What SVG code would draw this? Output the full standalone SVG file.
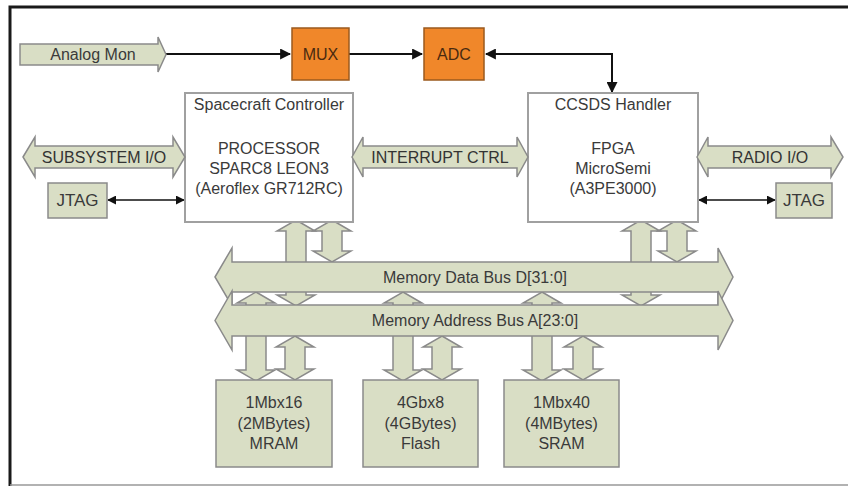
<svg xmlns="http://www.w3.org/2000/svg" width="848" height="488" viewBox="0 0 848 488">
<defs>
<marker id="ah" viewBox="0 0 10 10" refX="9" refY="5" markerWidth="11" markerHeight="11" markerUnits="userSpaceOnUse" orient="auto-start-reverse"><path d="M0,0 L10,5 L0,10 Z" fill="#111"/></marker>
<marker id="ahs" viewBox="0 0 10 10" refX="9" refY="5" markerWidth="9" markerHeight="9" markerUnits="userSpaceOnUse" orient="auto-start-reverse"><path d="M0,0 L10,5 L0,10 Z" fill="#111"/></marker>
</defs>
<style>
.t{font-family:"Liberation Sans",Arial,sans-serif;font-size:16px;fill:#3a3a3a;text-anchor:middle}
.lbl{font-family:"Liberation Sans",Arial,sans-serif;font-size:16px;fill:#333;text-anchor:middle}
.blk{fill:#d9dec5;stroke:#8a8a8a;stroke-width:1.5}
.box{fill:#fff;stroke:#a0a0a0;stroke-width:2}
.org{fill:#f0872a;stroke:#9b5a1e;stroke-width:1.5}
.ln{fill:none;stroke:#111;stroke-width:2}
.lns{fill:none;stroke:#111;stroke-width:1.5}
</style>
<rect width="848" height="488" fill="#fff"/>
<path d="M10,486 L10,7 L848,7" fill="none" stroke="#1a1a1a" stroke-width="3"/>
<line x1="10" y1="485" x2="848" y2="485" stroke="#999" stroke-width="1.5"/>

<g id="connectors">
<path class="ln" d="M166,54 L290,54" marker-end="url(#ah)"/>
<path class="ln" d="M349,54 L422,54" marker-end="url(#ah)"/>
<path class="ln" d="M486,54 L612,54 L612,92" marker-start="url(#ah)" marker-end="url(#ah)"/>
<path class="lns" d="M108,200 L184,200" marker-start="url(#ahs)" marker-end="url(#ahs)"/>
<path class="lns" d="M699,200 L775,200" marker-start="url(#ahs)" marker-end="url(#ahs)"/>
<path class="blk" d="M296,220 L315,231 L306,231 L306,295 L315,295 L296,306 L277,295 L286,295 L286,231 L277,231 Z"/>
<path class="blk" d="M332,220 L351,231 L342,231 L342,251 L351,251 L332,262 L313,251 L322,251 L322,231 L313,231 Z"/>
<path class="blk" d="M641,220 L660,231 L651,231 L651,295 L660,295 L641,306 L622,295 L631,295 L631,231 L622,231 Z"/>
<path class="blk" d="M677,220 L696,231 L687,231 L687,251 L696,251 L677,262 L658,251 L667,251 L667,231 L658,231 Z"/>
<path class="blk" d="M256,292 L275,303 L266,303 L266,370 L275,370 L256,381 L237,370 L246,370 L246,303 L237,303 Z"/>
<path class="blk" d="M295,336 L314,347 L305,347 L305,369 L314,369 L295,380 L276,369 L285,369 L285,347 L276,347 Z"/>
<path class="blk" d="M403,292 L422,303 L413,303 L413,370 L422,370 L403,381 L384,370 L393,370 L393,303 L384,303 Z"/>
<path class="blk" d="M442,336 L461,347 L452,347 L452,369 L461,369 L442,380 L423,369 L432,369 L432,347 L423,347 Z"/>
<path class="blk" d="M542,292 L561,303 L552,303 L552,370 L561,370 L542,381 L523,370 L532,370 L532,303 L523,303 Z"/>
<path class="blk" d="M583,336 L602,347 L593,347 L593,369 L602,369 L583,380 L564,369 L573,369 L573,347 L564,347 Z"/>
</g>

<g id="analog-mon">
<path class="blk" d="M20,44 L158,44 L158,37 L166,54.5 L158,72 L158,65 L20,65 Z"/>
<text class="t" x="93" y="60">Analog Mon</text>
</g>
<g id="mux">
<rect class="org" x="292" y="28" width="57" height="52"/>
<text class="t" x="320.5" y="60" style="fill:#4a2a10">MUX</text>
</g>
<g id="adc">
<rect class="org" x="424" y="28" width="60" height="52"/>
<text class="t" x="454" y="60" style="fill:#4a2a10">ADC</text>
</g>
<g id="spacecraft-controller">
<rect class="box" x="185" y="93" width="168" height="129"/>
<text class="t" x="269" y="110">Spacecraft Controller</text>
<text class="t" x="269" y="154">PROCESSOR</text>
<text class="t" x="269" y="174">SPARC8 LEON3</text>
<text class="t" x="269" y="194">(Aeroflex GR712RC)</text>
</g>
<g id="ccsds-handler">
<rect class="box" x="528" y="93" width="170" height="129"/>
<text class="t" x="613" y="110">CCSDS Handler</text>
<text class="t" x="613" y="154">FPGA</text>
<text class="t" x="613" y="174">MicroSemi</text>
<text class="t" x="613" y="194">(A3PE3000)</text>
</g>
<g id="subsystem-io">
<path class="blk" d="M23,157 L35,137 L35,146 L173,146 L173,137 L185,157 L173,177 L173,168 L35,168 L35,177 Z"/>
<text class="lbl" x="104" y="162.5">SUBSYSTEM I/O</text>
</g>
<g id="interrupt-ctrl">
<path class="blk" d="M352,157 L363,137 L363,146 L517,146 L517,137 L528,157 L517,177 L517,168 L363,168 L363,177 Z"/>
<text class="lbl" x="440" y="162.5">INTERRUPT CTRL</text>
</g>
<g id="radio-io">
<path class="blk" d="M697,157 L708,137 L708,146 L831,146 L831,137 L843,157 L831,177 L831,168 L708,168 L708,177 Z"/>
<text class="lbl" x="770" y="162.5">RADIO I/O</text>
</g>
<g id="jtag-left">
<rect class="blk" x="48" y="183" width="59" height="35"/>
<text class="t" x="77.5" y="206" style="font-size:17px">JTAG</text>
</g>
<g id="jtag-right">
<rect class="blk" x="776" y="183" width="56" height="35"/>
<text class="t" x="804" y="206" style="font-size:17px">JTAG</text>
</g>
<g id="data-bus">
<path class="blk" d="M215,277 L232,248 L232,262 L718,262 L718,248 L733,277 L718,306 L718,292 L232,292 L232,306 Z"/>
<text class="t" x="475" y="283">Memory Data Bus D[31:0]</text>
</g>
<g id="address-bus">
<path class="blk" d="M215,320.5 L232,291 L232,305 L718,305 L718,291 L733,320.5 L718,350 L718,336 L232,336 L232,350 Z"/>
<text class="t" x="475" y="326">Memory Address Bus A[23:0]</text>
</g>
<g id="mram">
<rect class="blk" x="216" y="380" width="116" height="87"/>
<text class="t" x="274" y="408">1Mbx16</text>
<text class="t" x="274" y="429">(2MBytes)</text>
<text class="t" x="274" y="449">MRAM</text>
</g>
<g id="flash">
<rect class="blk" x="363" y="380" width="115" height="87"/>
<text class="t" x="420.5" y="408">4Gbx8</text>
<text class="t" x="420.5" y="429">(4GBytes)</text>
<text class="t" x="420.5" y="449">Flash</text>
</g>
<g id="sram">
<rect class="blk" x="504" y="380" width="115" height="87"/>
<text class="t" x="561.5" y="408">1Mbx40</text>
<text class="t" x="561.5" y="429">(4MBytes)</text>
<text class="t" x="561.5" y="449">SRAM</text>
</g>
</svg>
